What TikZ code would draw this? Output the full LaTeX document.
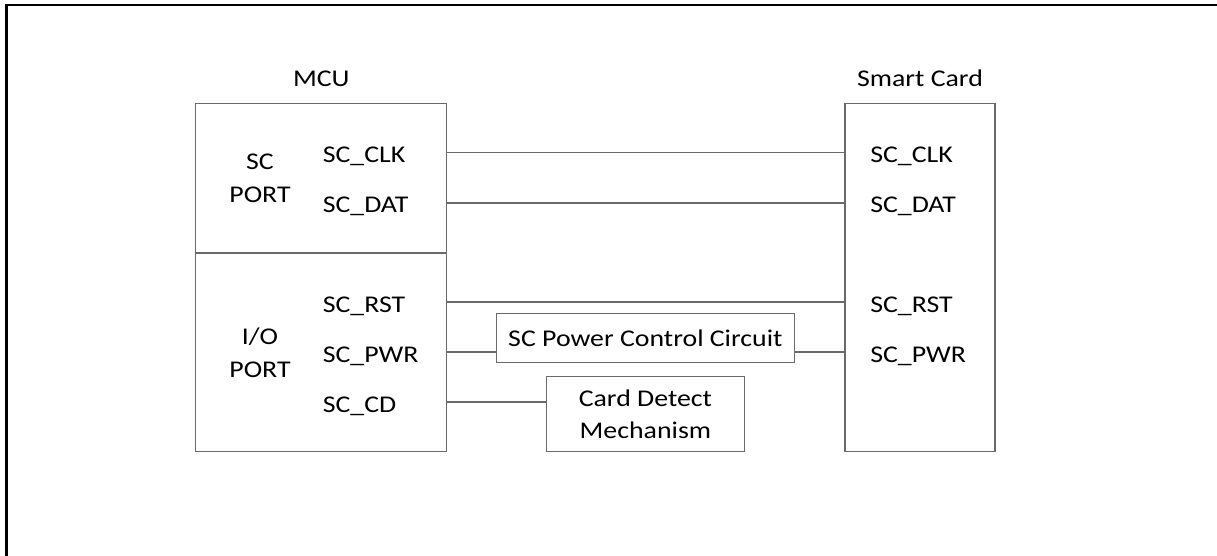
\documentclass[tikz,border=0pt]{standalone}
\usepackage{fontspec}
\setmainfont{Carlito}[FakeStretch=1.16]
\usetikzlibrary{positioning,calc}
\definecolor{WireGray}{HTML}{6A6A6A}

\begin{document}
\begin{tikzpicture}[x=0.75pt,y=-0.75pt]
    \tikzset{blk/.style={draw=WireGray,line width=0.8pt,inner sep=0pt,align=center,
      font=\fontsize{18}{24.5}\selectfont},
      pin/.style={anchor=west,inner sep=0pt,text height=16pt,text depth=1pt,
      font=\fontsize{18}{24.5}\selectfont},
      lbl/.style={inner sep=0pt,align=center,font=\fontsize{18}{24.5}\selectfont},
      wire/.style={draw=WireGray,line width=0.8pt}}
    \useasboundingbox (0,0) rectangle (1217,556);
    \draw[line width=1.9pt] (6.5,556) -- (6.5,5) -- (1217,5);
    \node[blk,minimum width=188.2pt,minimum height=261.5pt] (mcu) at (321.3,277.5) {};
    \node[blk,minimum width=112.5pt,minimum height=261.5pt] (card) at (920,277.5) {};
    \node[lbl,above=11.7pt of mcu] (mcut) {MCU};
    \node[lbl,above=11.7pt of card] (cardt) {Smart Card};
    \coordinate (split) at (0,253);
    \draw[wire] (mcu.west |- split) -- (mcu.east |- split);
    \node[lbl] (scport) at (260,178) {SC\\PORT};
    \node[lbl] (ioport) at (260,353) {I/O\\PORT};
    % MCU side pins
    \node[pin] (lclk) at (322.5,152.5) {SC\_CLK};
    \node[pin] (ldat) at (322.5,203) {SC\_DAT};
    \node[pin] (lrst) at (322.5,302) {SC\_RST};
    \node[pin] (lpwr) at (322.5,352) {SC\_PWR};
    \node[pin] (lcd) at (322.5,402) {SC\_CD};
    % Smart card side pins
    \node[pin] (rclk) at (870,152.5) {SC\_CLK};
    \node[pin] (rdat) at (870,203) {SC\_DAT};
    \node[pin] (rrst) at (870,302) {SC\_RST};
    \node[pin] (rpwr) at (870,352) {SC\_PWR};
    % middle blocks
    \node[blk,minimum width=223pt,minimum height=37.3pt] (pwrc) at (645.4,338) {SC Power Control Circuit};
    \node[blk,minimum width=148pt,minimum height=56.3pt] (cdet) at (645.4,414.2) {Card Detect\\Mechanism};
    % connections
    \draw[wire] (mcu.east |- lclk) -- (card.west |- lclk);
    \draw[wire] (mcu.east |- ldat) -- (card.west |- ldat);
    \draw[wire] (mcu.east |- lrst) -- (card.west |- lrst);
    \draw[wire] (mcu.east |- lpwr) -- (pwrc.west |- lpwr);
    \draw[wire] (pwrc.east |- lpwr) -- (card.west |- lpwr);
    \draw[wire] (mcu.east |- lcd) -- (cdet.west |- lcd);
\end{tikzpicture}
\end{document}
